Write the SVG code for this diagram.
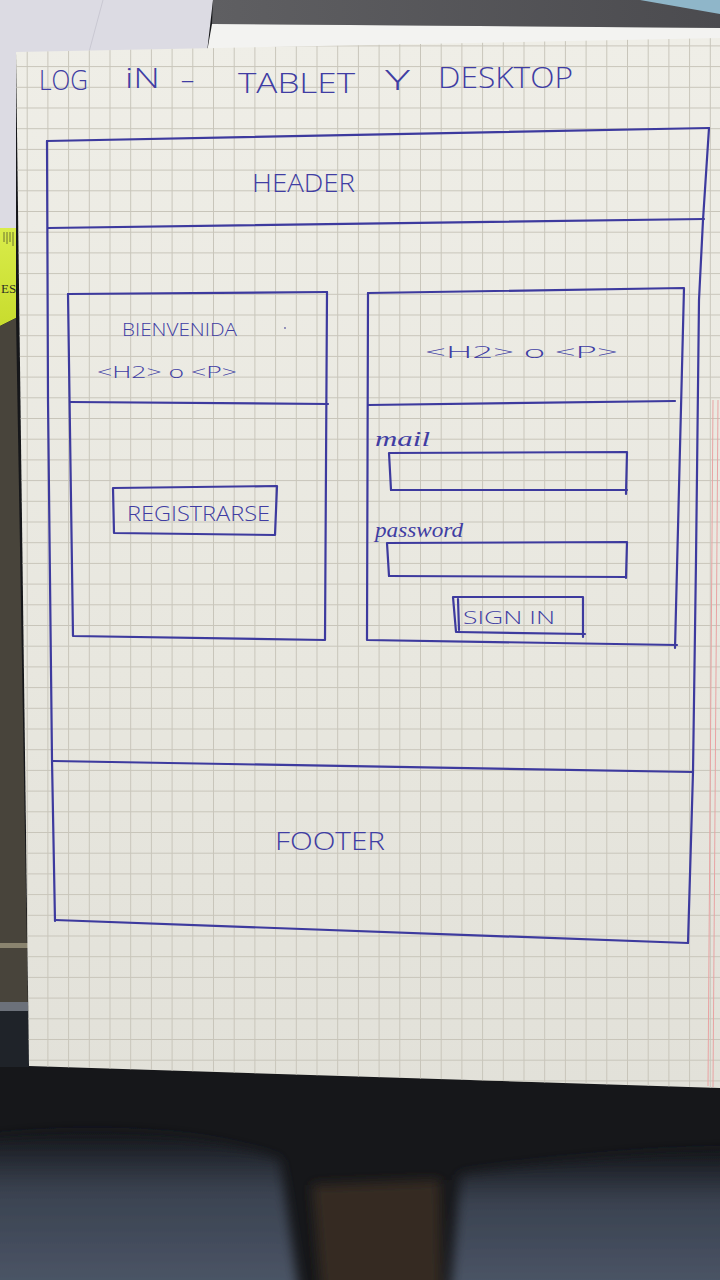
<svg xmlns="http://www.w3.org/2000/svg" width="720" height="1280" viewBox="0 0 720 1280">
  <defs>
    <style>
      .ink { fill: none; stroke: #3d3a9e; stroke-width: 2.2; stroke-linecap: round; stroke-linejoin: round; }
      .hand { font-family: "Open Sans", "Liberation Sans", "DejaVu Sans", sans-serif; font-weight: 300; fill: #403da3; }
      .script { font-family: "Liberation Serif", "DejaVu Serif", serif; font-style: italic; fill: #403da3; }
      .grid { stroke: #c8c5ba; stroke-width: 1; }
    </style>
    <pattern id="gridPat" width="20.7" height="20.7" patternUnits="userSpaceOnUse" x="6" y="4">
      <rect width="20.7" height="20.7" fill="none"/>
      <path d="M0 0.5 H20.7 M0.5 0 V20.7" class="grid"/>
    </pattern>
    <linearGradient id="paperShade" x1="0" y1="0" x2="0" y2="1">
      <stop offset="0" stop-color="#efeee7"/>
      <stop offset="0.6" stop-color="#e8e7df"/>
      <stop offset="1" stop-color="#e2e1d9"/>
    </linearGradient>
    <linearGradient id="topDark" x1="0" y1="0" x2="1" y2="0">
      <stop offset="0" stop-color="#5f5f62"/>
      <stop offset="1" stop-color="#4b4b4f"/>
    </linearGradient>
    <linearGradient id="denimL" x1="0" y1="0" x2="0" y2="1">
      <stop offset="0" stop-color="#14161a"/>
      <stop offset="0.35" stop-color="#3a4250"/>
      <stop offset="1" stop-color="#4e586a"/>
    </linearGradient>
    <linearGradient id="sticky" x1="0" y1="0" x2="0" y2="1">
      <stop offset="0" stop-color="#d9ec4a"/>
      <stop offset="1" stop-color="#c8dc2e"/>
    </linearGradient>
    <filter id="soft" x="-10%" y="-10%" width="120%" height="120%">
      <feGaussianBlur stdDeviation="6"/>
    </filter>
  </defs>

  <!-- desk and surroundings -->
  <g id="background">
    <rect x="0" y="0" width="720" height="1280" fill="#16171a"/>
    <!-- sheet behind, top left -->
    <polygon points="0,0 213,0 207,52 16,52 16,230 0,230" fill="#dcdbe3"/>
    <line x1="103" y1="0" x2="89" y2="52" stroke="#c9c8d2" stroke-width="1"/>
    <!-- dark object top right -->
    <polygon points="213,0 720,0 720,28 212,24" fill="url(#topDark)"/>
    <polygon points="640,0 720,0 720,14" fill="#8fb6c9"/>
    <polygon points="212,24 720,28 720,40 207,52" fill="#f3f3f1"/>
    <!-- yellow note on the left -->
    <polygon points="0,228 16,228 16,318 0,326" fill="url(#sticky)"/>
    <path d="M4 232 V242 M7 232 V244 M10 232 V242 M13 232 V246" stroke="#6b7330" stroke-width="1"/>
    <text x="1" y="293" font-family="Liberation Serif, serif" font-size="13" fill="#2e2f24">ES</text>
    <!-- dark strip left of the sheet -->
    <polygon points="0,326 16,318 29,1066 0,1066" fill="#48443b"/>
    <rect x="0" y="943" width="28" height="5" fill="#8a846f"/>
    <rect x="0" y="1002" width="28" height="9" fill="#6c717a"/>
    <rect x="0" y="1011" width="29" height="56" fill="#1f2329"/>
    <!-- lap below -->
    <g filter="url(#soft)">
      <path d="M-20 1140 C 80 1125, 200 1130, 280 1160 L 300 1300 L -20 1300 Z" fill="url(#denimL)"/>
      <path d="M460 1175 C 560 1160, 660 1150, 740 1150 L 740 1300 L 450 1300 Z" fill="url(#denimL)"/>
      <path d="M312 1185 L 440 1180 L 442 1300 L 322 1300 Z" fill="#342c22"/>
    </g>
  </g>

  <!-- grid paper sheet -->
  <g id="paper">
    <polygon points="16,52 720,38 720,1088 29,1066" fill="url(#paperShade)"/>
    <polygon points="16,52 720,38 720,1088 29,1066" fill="url(#gridPat)"/>
    <path d="M713 400 L708 1086 M718 400 L713 1087" stroke="#e9a3a3" stroke-width="1"/>
  </g>

  <!-- page title -->
  <g id="title" class="hand">
    <text x="39" y="90" font-size="27" textLength="49" lengthAdjust="spacingAndGlyphs">LOG</text>
    <text x="125" y="88" font-size="27" textLength="35" lengthAdjust="spacingAndGlyphs">iN</text>
    <text x="180" y="89" font-size="27" textLength="15" lengthAdjust="spacingAndGlyphs">-</text>
    <text x="238" y="93" font-size="28" textLength="117" lengthAdjust="spacingAndGlyphs">TABLET</text>
    <text x="385" y="90" font-size="28" textLength="25" lengthAdjust="spacingAndGlyphs">Y</text>
    <text x="438" y="88" font-size="29" textLength="135" lengthAdjust="spacingAndGlyphs">DESKTOP</text>
  </g>

  <!-- page frame: header / main / footer -->
  <g id="frame">
    <polyline class="ink" points="47,141 709,128"/>
    <polyline class="ink" points="47,141 48,400 52,760 55,921"/>
    <polyline class="ink" points="709,128 703,220 699,300 696,560 693,772 688,943"/>
    <polyline class="ink" points="48,228 704,219"/>
  </g>

  <g id="header">
    <text class="hand" x="252" y="192" font-size="25" textLength="103" lengthAdjust="spacingAndGlyphs">HEADER</text>
  </g>

  <!-- welcome card -->
  <g id="welcome-card">
    <polyline class="ink" points="68,294 327,292"/>
    <polyline class="ink" points="68,294 73,636 325,640 327,292"/>
    <polyline class="ink" points="70,402 328,404"/>
    <text class="hand" x="122" y="336" font-size="19" textLength="115" lengthAdjust="spacingAndGlyphs">BIENVENIDA</text>
    <text class="hand" x="97" y="378" font-size="17" textLength="140" lengthAdjust="spacingAndGlyphs">&lt;H2&gt; o &lt;P&gt;</text>
    <circle cx="285" cy="328" r="0.9" fill="#6a68a8"/>
    <g id="btn-register">
      <polygon class="ink" points="113,488 277,486 275,535 114,533"/>
      <text class="hand" x="127" y="521" font-size="20" textLength="143" lengthAdjust="spacingAndGlyphs">REGISTRARSE</text>
    </g>
  </g>

  <!-- sign-in card -->
  <g id="signin-card">
    <polyline class="ink" points="368,293 684,288 675,648"/>
    <polyline class="ink" points="368,293 367,640 677,645"/>
    <polyline class="ink" points="368,405 675,401"/>
    <text class="hand" x="425" y="358" font-size="17" textLength="193" lengthAdjust="spacingAndGlyphs">&lt;H2&gt; o &lt;P&gt;</text>
    <g id="field-mail">
      <text class="script" x="375" y="446" font-size="22" textLength="55" lengthAdjust="spacingAndGlyphs">mail</text>
      <polyline class="ink" points="391,490 389,453 627,452 626,494"/>
      <polyline class="ink" points="391,490 627,490"/>
    </g>
    <g id="field-password">
      <text class="script" x="375" y="537" font-size="22" textLength="88" lengthAdjust="spacingAndGlyphs">password</text>
      <polyline class="ink" points="389,576 387,543 627,542 626,578"/>
      <polyline class="ink" points="389,576 626,577"/>
    </g>
    <g id="btn-signin">
      <polyline class="ink" points="456,632 453,597 583,597 583,637"/>
      <polyline class="ink" points="457,632 585,634"/>
      <line class="ink" x1="458" y1="599" x2="459" y2="630"/>
      <text class="hand" x="463" y="624" font-size="19" textLength="92" lengthAdjust="spacingAndGlyphs">SIGN IN</text>
    </g>
  </g>

  <!-- footer -->
  <g id="footer">
    <polyline class="ink" points="53,761 693,772"/>
    <polyline class="ink" points="55,920 688,943"/>
    <text class="hand" x="275" y="850" font-size="25" textLength="110" lengthAdjust="spacingAndGlyphs">FOOTER</text>
  </g>
</svg>
